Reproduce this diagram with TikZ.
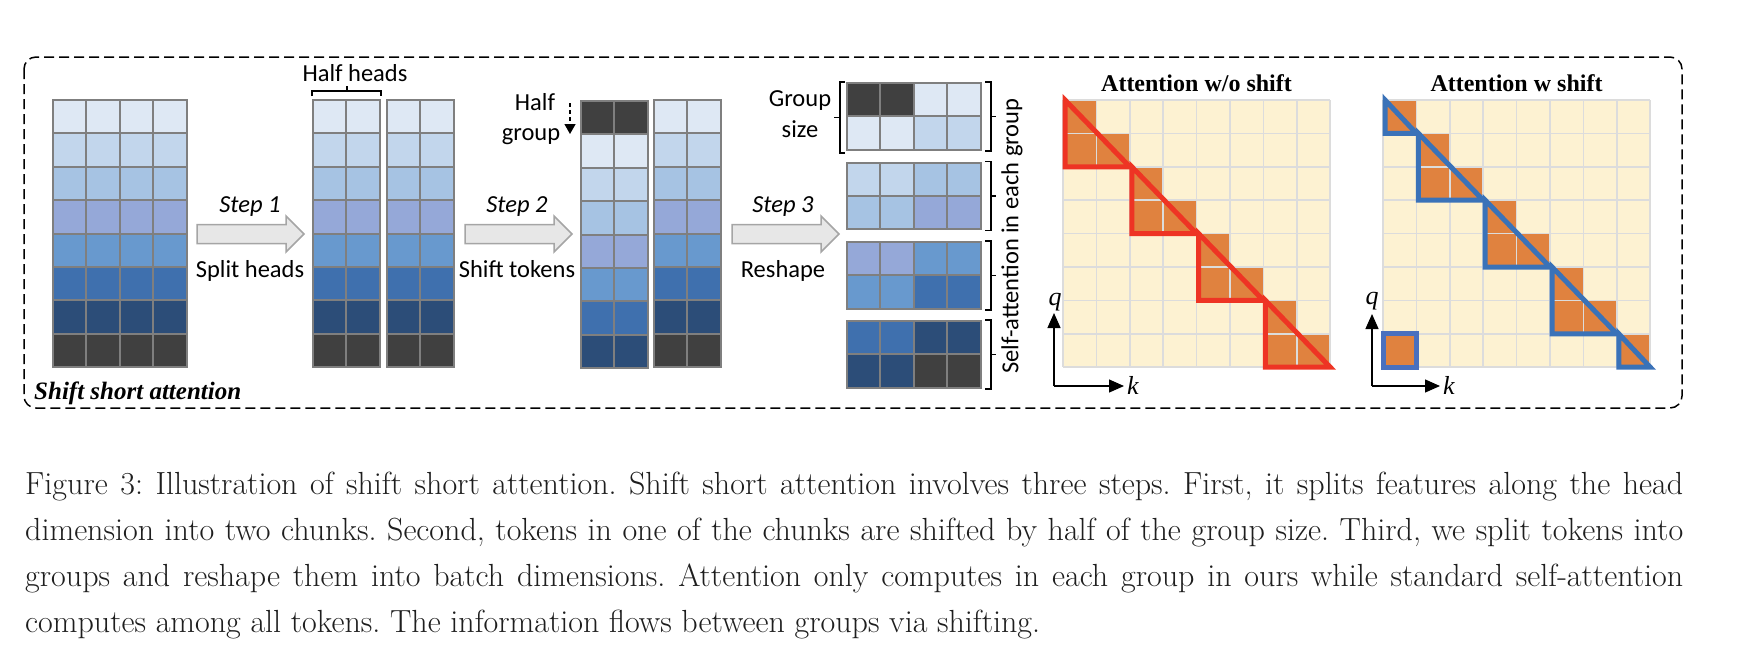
\documentclass[tikz,border=0pt]{standalone}
\usepackage{fontspec}
\newfontfamily\calib{Carlito}
\newfontfamily\tnr{Liberation Serif}
\usetikzlibrary{arrows.meta}
\definecolor{c0}{HTML}{DEE8F4}
\definecolor{c1}{HTML}{C2D6EC}
\definecolor{c2}{HTML}{A6C3E3}
\definecolor{c3}{HTML}{95A8D8}
\definecolor{c4}{HTML}{6899CE}
\definecolor{c5}{HTML}{3F70AE}
\definecolor{c6}{HTML}{2C4D78}
\definecolor{c7}{HTML}{404040}
\definecolor{gridgray}{HTML}{7F7F7F}
\definecolor{cream}{HTML}{FDF2D2}
\definecolor{attline}{HTML}{DCDCDC}
\definecolor{orng}{HTML}{E0823F}
\definecolor{redl}{HTML}{EE3424}
\definecolor{bluel}{HTML}{3A72B8}
\definecolor{bluesqc}{HTML}{4A70BE}
\definecolor{arrfill}{HTML}{E7E7E7}
\definecolor{arrdraw}{HTML}{A5A5A5}
\definecolor{captext}{HTML}{1E1E1E}
\def\cellS{33.4}
\newcommand\sanstxt{\calib\fontsize{24.5}{29}\selectfont}
\newcommand\captxt{\fontsize{32}{38}\selectfont\frenchspacing}
\begin{document}
\begin{tikzpicture}[x=1pt,y=-1pt,
  cellline/.style={draw=gridgray,line width=2pt},
  attgridline/.style={draw=attline,line width=1.6pt},
  blockarrow/.style={draw=arrdraw,fill=arrfill,line width=1.5pt,line join=miter},
  brk/.style={draw=black,line width=1.3pt},
  redtri/.style={draw=redl,line width=5pt,line join=miter},
  bluetri/.style={draw=bluel,line width=5pt,line join=miter},
  axisline/.style={draw=black,line width=1.3pt,-{Triangle[length=15pt,width=13pt]}},
  sanslbl/.style={font=\sanstxt,inner sep=0pt,anchor=base},
  caplbl/.style={font=\captxt,text=captext,inner sep=0pt,anchor=base west}]
\useasboundingbox (0,0) rectangle (1756,646);
% frame
\draw[line width=1.5pt,dash pattern=on 10pt off 5pt,rounded corners=12pt] (24,57) rectangle (1682,408);
\node[font=\tnr\bfseries\itshape\fontsize{25}{30}\selectfont,inner sep=0pt,anchor=base west] (ssa) at (34,399) {Shift short attention};
% grid 1
\foreach \r in {0,...,7}{\foreach \c in {0,...,3}{
  \draw[cellline,fill=c\r] ({53+\c*\cellS},{100+\r*\cellS}) rectangle ++(\cellS,\cellS);}}
% grids 2a 2b
\foreach \r in {0,...,7}{\foreach \c in {0,1}{
  \draw[cellline,fill=c\r] ({313+\c*\cellS},{100+\r*\cellS}) rectangle ++(\cellS,\cellS);
  \draw[cellline,fill=c\r] ({387+\c*\cellS},{100+\r*\cellS}) rectangle ++(\cellS,\cellS);}}
% grids 3a 3b
\foreach \r in {0,...,7}{\foreach \c in {0,1}{
  \pgfmathtruncatemacro\kk{mod(\r+7,8)}
  \draw[cellline,fill=c\kk] ({581+\c*\cellS},{101+\r*\cellS}) rectangle ++(\cellS,\cellS);
  \draw[cellline,fill=c\r] ({654+\c*\cellS},{100+\r*\cellS}) rectangle ++(\cellS,\cellS);}}
% groups
\foreach \g/\gy in {0/83,1/162.5,2/242,3/321}{\foreach \j in {0,1}{\foreach \c in {0,1}{
  \pgfmathtruncatemacro\tt{2*\g+\j}
  \pgfmathtruncatemacro\kk{mod(\tt+7,8)}
  \draw[cellline,fill=c\kk] ({847+\c*\cellS},{\gy+\j*\cellS}) rectangle ++(\cellS,\cellS);
  \draw[cellline,fill=c\tt] ({847+(\c+2)*\cellS},{\gy+\j*\cellS}) rectangle ++(\cellS,\cellS);}}
  \draw[brk] (985,{\gy-1}) -- (991,{\gy-1}) -- (991,{\gy+68}) -- (985,{\gy+68});
  \draw[brk] (991,{\gy+33.5}) -- (996,{\gy+33.5});}
% block arrows
\foreach \ax in {197,465,732}{
  \draw[blockarrow] (\ax,224.5) -- ({\ax+89},224.5) -- ({\ax+89},216) -- ({\ax+107},234) -- ({\ax+89},252) -- ({\ax+89},243.5) -- (\ax,243.5) -- cycle;}
\node[sanslbl,font=\sanstxt\itshape] (s1) at (250,212) {Step 1};
\node[sanslbl] (sh) at (250,277) {Split heads};
\node[sanslbl,font=\sanstxt\itshape] (s2) at (517,212) {Step 2};
\node[sanslbl] (st) at (517,277) {Shift tokens};
\node[sanslbl,font=\sanstxt\itshape] (s3) at (783,212) {Step 3};
\node[sanslbl] (rs) at (783,277) {Reshape};
% half heads
\node[sanslbl] (hh) at (355,81) {Half heads};
\draw[brk] (312,96) -- (312,91) -- (381,91) -- (381,96);
\draw[brk] (347,91) -- (347,86);
% half group
\node[sanslbl] (hg1) at (535,110) {Half};
\node[sanslbl] (hg2) at (531,140) {group};
\coordinate (hga) at (570,103);
\coordinate (hgb) at (570,134);
\draw[line width=1.3pt,dash pattern=on 4pt off 3pt,-{Triangle[length=10pt,width=11pt]}] (hga) -- (hgb);
% group size
\node[sanslbl] (gs1) at (800,106) {Group};
\node[sanslbl] (gs2) at (800,137) {size};
\draw[brk] (845,82) -- (840,82) -- (840,153) -- (845,153);
\draw[brk] (840,117.5) -- (834,117.5);
\node[font=\sanstxt,inner sep=0pt,rotate=90] (sa) at (1012,236) {Self-attention in each group};
% attention matrices
\foreach \mx in {1063,1383}{
  \fill[cream] (\mx,100) rectangle ++({8*\cellS},{8*\cellS});}
\foreach \r/\c in {0/0,1/0,1/1,2/2,3/2,3/3,4/4,5/4,5/5,6/6,7/6,7/7}{
  \fill[orng] ({1063+\c*\cellS},{100+\r*\cellS}) rectangle ++(\cellS,\cellS);}
\foreach \r/\c in {0/0,1/1,2/1,2/2,3/3,4/3,4/4,5/5,6/5,6/6,7/7,7/0}{
  \fill[orng] ({1383+\c*\cellS},{100+\r*\cellS}) rectangle ++(\cellS,\cellS);}
\foreach \mx in {1063,1383}{\foreach \i in {0,...,8}{
  \draw[attgridline] ({\mx+\i*\cellS},100) -- ++(0,{8*\cellS});
  \draw[attgridline] (\mx,{100+\i*\cellS}) -- ++({8*\cellS},0);}}
\foreach \k in {0,...,3}{
  \draw[redtri] ({1065+2*\k*\cellS},{100+2*\k*\cellS}) -- ({1065+2*\k*\cellS},{100+(2*\k+2)*\cellS}) -- ({1063+(2*\k+2)*\cellS},{100+(2*\k+2)*\cellS}) -- cycle;}
\draw[bluetri] (1385,100) -- (1385,{100+\cellS}) -- ({1383+\cellS},{100+\cellS}) -- cycle;
\foreach \k in {0,1,2}{
  \draw[bluetri] ({1385+(2*\k+1)*\cellS},{100+(2*\k+1)*\cellS}) -- ({1385+(2*\k+1)*\cellS},{100+(2*\k+3)*\cellS}) -- ({1383+(2*\k+3)*\cellS},{100+(2*\k+3)*\cellS}) -- cycle;}
\draw[bluetri] ({1385+7*\cellS},{100+7*\cellS}) -- ({1385+7*\cellS},{100+8*\cellS}) -- ({1383+8*\cellS},{100+8*\cellS}) -- cycle;
\draw[draw=bluesqc,line width=5pt] (1383,{100+7*\cellS}) rectangle ++(\cellS,\cellS);
\node[font=\tnr\bfseries\fontsize{24}{28}\selectfont,inner sep=0pt,anchor=base] (t1) at (1196.5,91) {Attention w/o shift};
\node[font=\tnr\bfseries\fontsize{24}{28}\selectfont,inner sep=0pt,anchor=base] (t2) at (1516.5,91) {Attention w shift};
% axes
\coordinate (o1) at (1054,386);
\coordinate (q1) at (1054,313);
\coordinate (k1) at (1124,386);
\draw[axisline] (o1) -- (q1);
\draw[axisline] (o1) -- (k1);
\node[font=\tnr\itshape\fontsize{26}{30}\selectfont,inner sep=0pt,anchor=base] (ql1) at (1055,305) {q};
\node[font=\tnr\itshape\fontsize{26}{30}\selectfont,inner sep=0pt,anchor=base west] (kl1) at (1127,394) {k};
\coordinate (o2) at (1372,386);
\coordinate (q2) at (1372,314);
\coordinate (k2) at (1440,386);
\draw[axisline] (o2) -- (q2);
\draw[axisline] (o2) -- (k2);
\node[font=\tnr\itshape\fontsize{26}{30}\selectfont,inner sep=0pt,anchor=base] (ql2) at (1372,304) {q};
\node[font=\tnr\itshape\fontsize{26}{30}\selectfont,inner sep=0pt,anchor=base west] (kl2) at (1443,394) {k};
% caption
\node[caplbl] (cap1) at (25,494) {\makebox[1658pt][s]{Figure 3: Illustration of shift short attention. Shift short attention involves three steps. First, it splits features along the head}};
\node[caplbl] (cap2) at (25,540) {\makebox[1658pt][s]{dimension into two chunks. Second, tokens in one of the chunks are shifted by half of the group size. Third, we split tokens into}};
\node[caplbl] (cap3) at (25,586) {\makebox[1658pt][s]{groups and reshape them into batch dimensions. Attention only computes in each group in ours while standard self-attention}};
\node[caplbl] (cap4) at (25,632) {computes among all tokens. The information flows between groups via shifting.};
\end{tikzpicture}
\end{document}
